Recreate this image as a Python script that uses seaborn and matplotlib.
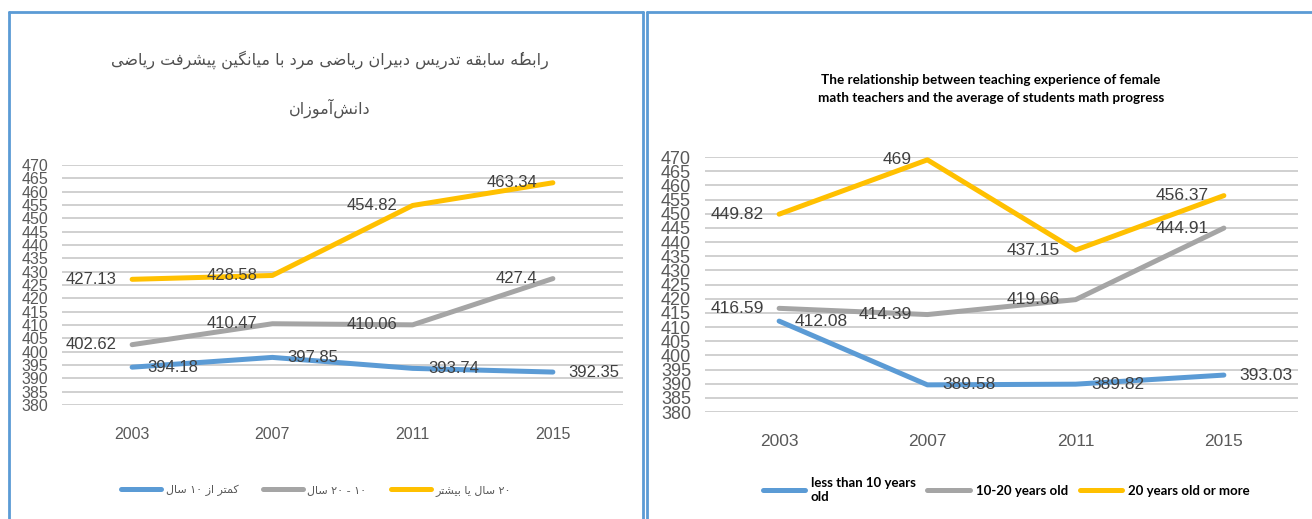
import re

import matplotlib

matplotlib.use("Agg")
import matplotlib.pyplot as plt
import numpy as np
import pandas as pd
import seaborn as sns
from matplotlib.lines import Line2D

# %%
years = [2003, 2007, 2011, 2015]

# male teachers (left chart)
male_lt10 = [394.18, 397.85, 393.74, 392.35]
male_10_20 = [402.62, 410.47, 410.06, 427.4]
male_20plus = [427.13, 428.58, 454.82, 463.34]

# female teachers (right chart)
female_lt10 = [412.08, 389.58, 389.82, 393.03]
female_10_20 = [416.59, 414.39, 419.66, 444.91]
female_20plus = [449.82, 469, 437.15, 456.37]

yticks = list(range(380, 471, 5))

fa_title = ["رابطهٔ سابقه تدریس دبیران ریاضی مرد با میانگین پیشرفت ریاضی", "دانش‌آموزان"]
fa_groups = ["کمتر از ۱۰ سال", "۱۰ - ۲۰ سال", "۲۰ سال یا بیشتر"]
en_title = "The relationship between teaching experience of female\nmath teachers and the average of students math progress"
en_groups = ["less than 10 years\nold", "10-20 years old", "20 years old or more"]

colors = ["#5B9BD5", "#A5A5A5", "#FFC000"]

# %%
# matplotlib has no arabic shaping, so pick presentation forms by hand
# (isolated, final, initial, medial)
FORMS = {
    "ا": "\uFE8D\uFE8E", "آ": "\uFE81\uFE82", "د": "\uFEA9\uFEAA", "ر": "\uFEAD\uFEAE",
    "ز": "\uFEAF\uFEB0", "و": "\uFEED\uFEEE",
    "ب": "\uFE8F\uFE90\uFE91\uFE92", "پ": "\uFB56\uFB57\uFB58\uFB59", "ت": "\uFE95\uFE96\uFE97\uFE98",
    "س": "\uFEB1\uFEB2\uFEB3\uFEB4", "ش": "\uFEB5\uFEB6\uFEB7\uFEB8", "ض": "\uFEBD\uFEBE\uFEBF\uFEC0",
    "ط": "\uFEC1\uFEC2\uFEC3\uFEC4", "ف": "\uFED1\uFED2\uFED3\uFED4", "ق": "\uFED5\uFED6\uFED7\uFED8",
    "ک": "\uFB8E\uFB8F\uFB90\uFB91", "گ": "\uFB92\uFB93\uFB94\uFB95", "ل": "\uFEDD\uFEDE\uFEDF\uFEE0",
    "م": "\uFEE1\uFEE2\uFEE3\uFEE4", "ن": "\uFEE5\uFEE6\uFEE7\uFEE8", "ه": "\uFEE9\uFEEA\uFEEB\uFEEC",
    "ی": "\uFBFC\uFBFD\uFBFE\uFBFF",
}
MARKS = "\u0654"


def fa(text):
    out = []
    for i, ch in enumerate(text):
        if ch not in FORMS:
            out.append(ch)
            continue
        prev = text[i - 1] if i > 0 else ""
        nxt = text[i + 1] if i + 1 < len(text) else ""
        f = FORMS[ch]
        join_prev = prev in FORMS and len(FORMS[prev]) == 4
        join_next = len(f) == 4 and nxt in FORMS
        if join_prev and join_next:
            out.append(f[3])
        elif join_prev:
            out.append(f[1])
        elif join_next:
            out.append(f[2])
        else:
            out.append(f[0])
    s = "".join(out).replace("\u200c", "")
    # visual order: right to left, digit runs stay left to right
    runs = re.findall(r"[0-9\u06F0-\u06F9]+|[^0-9\u06F0-\u06F9]+", s)
    s = "".join(r if r[0].isdigit() else r[::-1] for r in runs[::-1])
    # a combining mark has to follow its base letter again
    return re.sub(f"([{MARKS}])(.)", r"\2\1", s)


# %%
sns.set_theme(style="white")
plt.rcParams["font.family"] = ["Liberation Sans", "DejaVu Sans"]

W, H = 1312, 519
fig = plt.figure(figsize=(W / 100, H / 100), dpi=100, facecolor="white")
ax_l = fig.add_axes([62 / W, 114 / H, 561 / W, 240 / H])
ax_r = fig.add_axes([705 / W, 107 / H, 593 / W, 255 / H])


def draw_panel(ax, values, names, label_size, xtick_size, ytick_size):
    df = pd.DataFrame({"year": years * 3, "score": sum(values, []), "group": np.repeat(names, len(years))})
    sns.lineplot(data=df, x="year", y="score", hue="group", hue_order=names, palette=colors,
                 linewidth=3.6, ax=ax, legend=False)
    # blue labels sit right of the point, the others left
    for vals, side in zip(values, ["right", "left", "left"]):
        for x, v in zip(years, vals):
            ax.annotate(f"{v:g}", (x, v), xytext=(11 if side == "right" else -11, 0), textcoords="offset points",
                        ha="left" if side == "right" else "right", va="center", fontsize=label_size,
                        color="#404040")
    ax.set_xlim(2001, 2017)
    ax.set_ylim(380, 470)
    ax.set_xticks(years)
    ax.set_yticks(yticks)
    ax.grid(axis="y", color="#D0D0D0", lw=1.4)
    sns.despine(ax=ax, left=True, bottom=True)
    ax.tick_params(length=0, labelcolor="#595959")
    ax.tick_params(axis="y", pad=10, labelsize=ytick_size)
    ax.tick_params(axis="x", pad=16, labelsize=xtick_size)
    ax.set_xlabel("")
    ax.set_ylabel("")


draw_panel(ax_l, [male_lt10, male_10_20, male_20plus], [fa(g) for g in fa_groups], 12, 11.5, 11.5)
draw_panel(ax_r, [female_lt10, female_10_20, female_20plus], en_groups, 12.5, 12.5, 13)

# titles
fig.text(330 / W, 1 - 60 / H, fa(fa_title[0]), ha="center", va="center", fontsize=11.5,
         family="DejaVu Sans", color="#505050")
fig.text(330 / W, 1 - 108 / H, fa(fa_title[1]), ha="center", va="center", fontsize=11.5,
         family="DejaVu Sans", color="#505050")
fig.text(991 / W, 1 - 89 / H, en_title, ha="center", va="center", fontsize=9.7, fontweight="bold",
         family=["Lato", "DejaVu Sans"], linespacing=1.65, color="black")

# legends
ax_l.legend(handles=ax_l.lines[:3], labels=[fa(g) for g in fa_groups], loc="center",
            bbox_to_anchor=(316 / W, 29 / H), bbox_transform=fig.transFigure, ncol=3, frameon=False,
            prop={"family": "DejaVu Sans", "size": 8}, labelcolor="#595959",
            handlelength=3.6, handletextpad=0.4, columnspacing=2.2)
ax_r.legend(handles=ax_r.lines[:3], labels=en_groups, loc="center",
            bbox_to_anchor=(1006 / W, 29 / H), bbox_transform=fig.transFigure, ncol=3, frameon=False,
            prop={"family": ["Lato", "DejaVu Sans"], "size": 9.5, "weight": "bold"},
            labelcolor="black", handlelength=3.2, handletextpad=0.45, columnspacing=0.9)

# panel frames
frame = dict(color="#5B9BD5", lw=2, transform=fig.transFigure)
top = 1 - 12 / H
fig.add_artist(Line2D([9 / W, 9 / W], [0, top], **frame))
fig.add_artist(Line2D([9 / W, 643 / W], [top, top], **frame))
fig.add_artist(Line2D([643 / W, 643 / W], [0, top], **frame))
fig.add_artist(Line2D([647 / W, 647 / W], [0, top], **frame))
fig.add_artist(Line2D([647 / W, 1], [top, top], **frame))

fig.savefig("out.png", dpi=100, facecolor="white")
